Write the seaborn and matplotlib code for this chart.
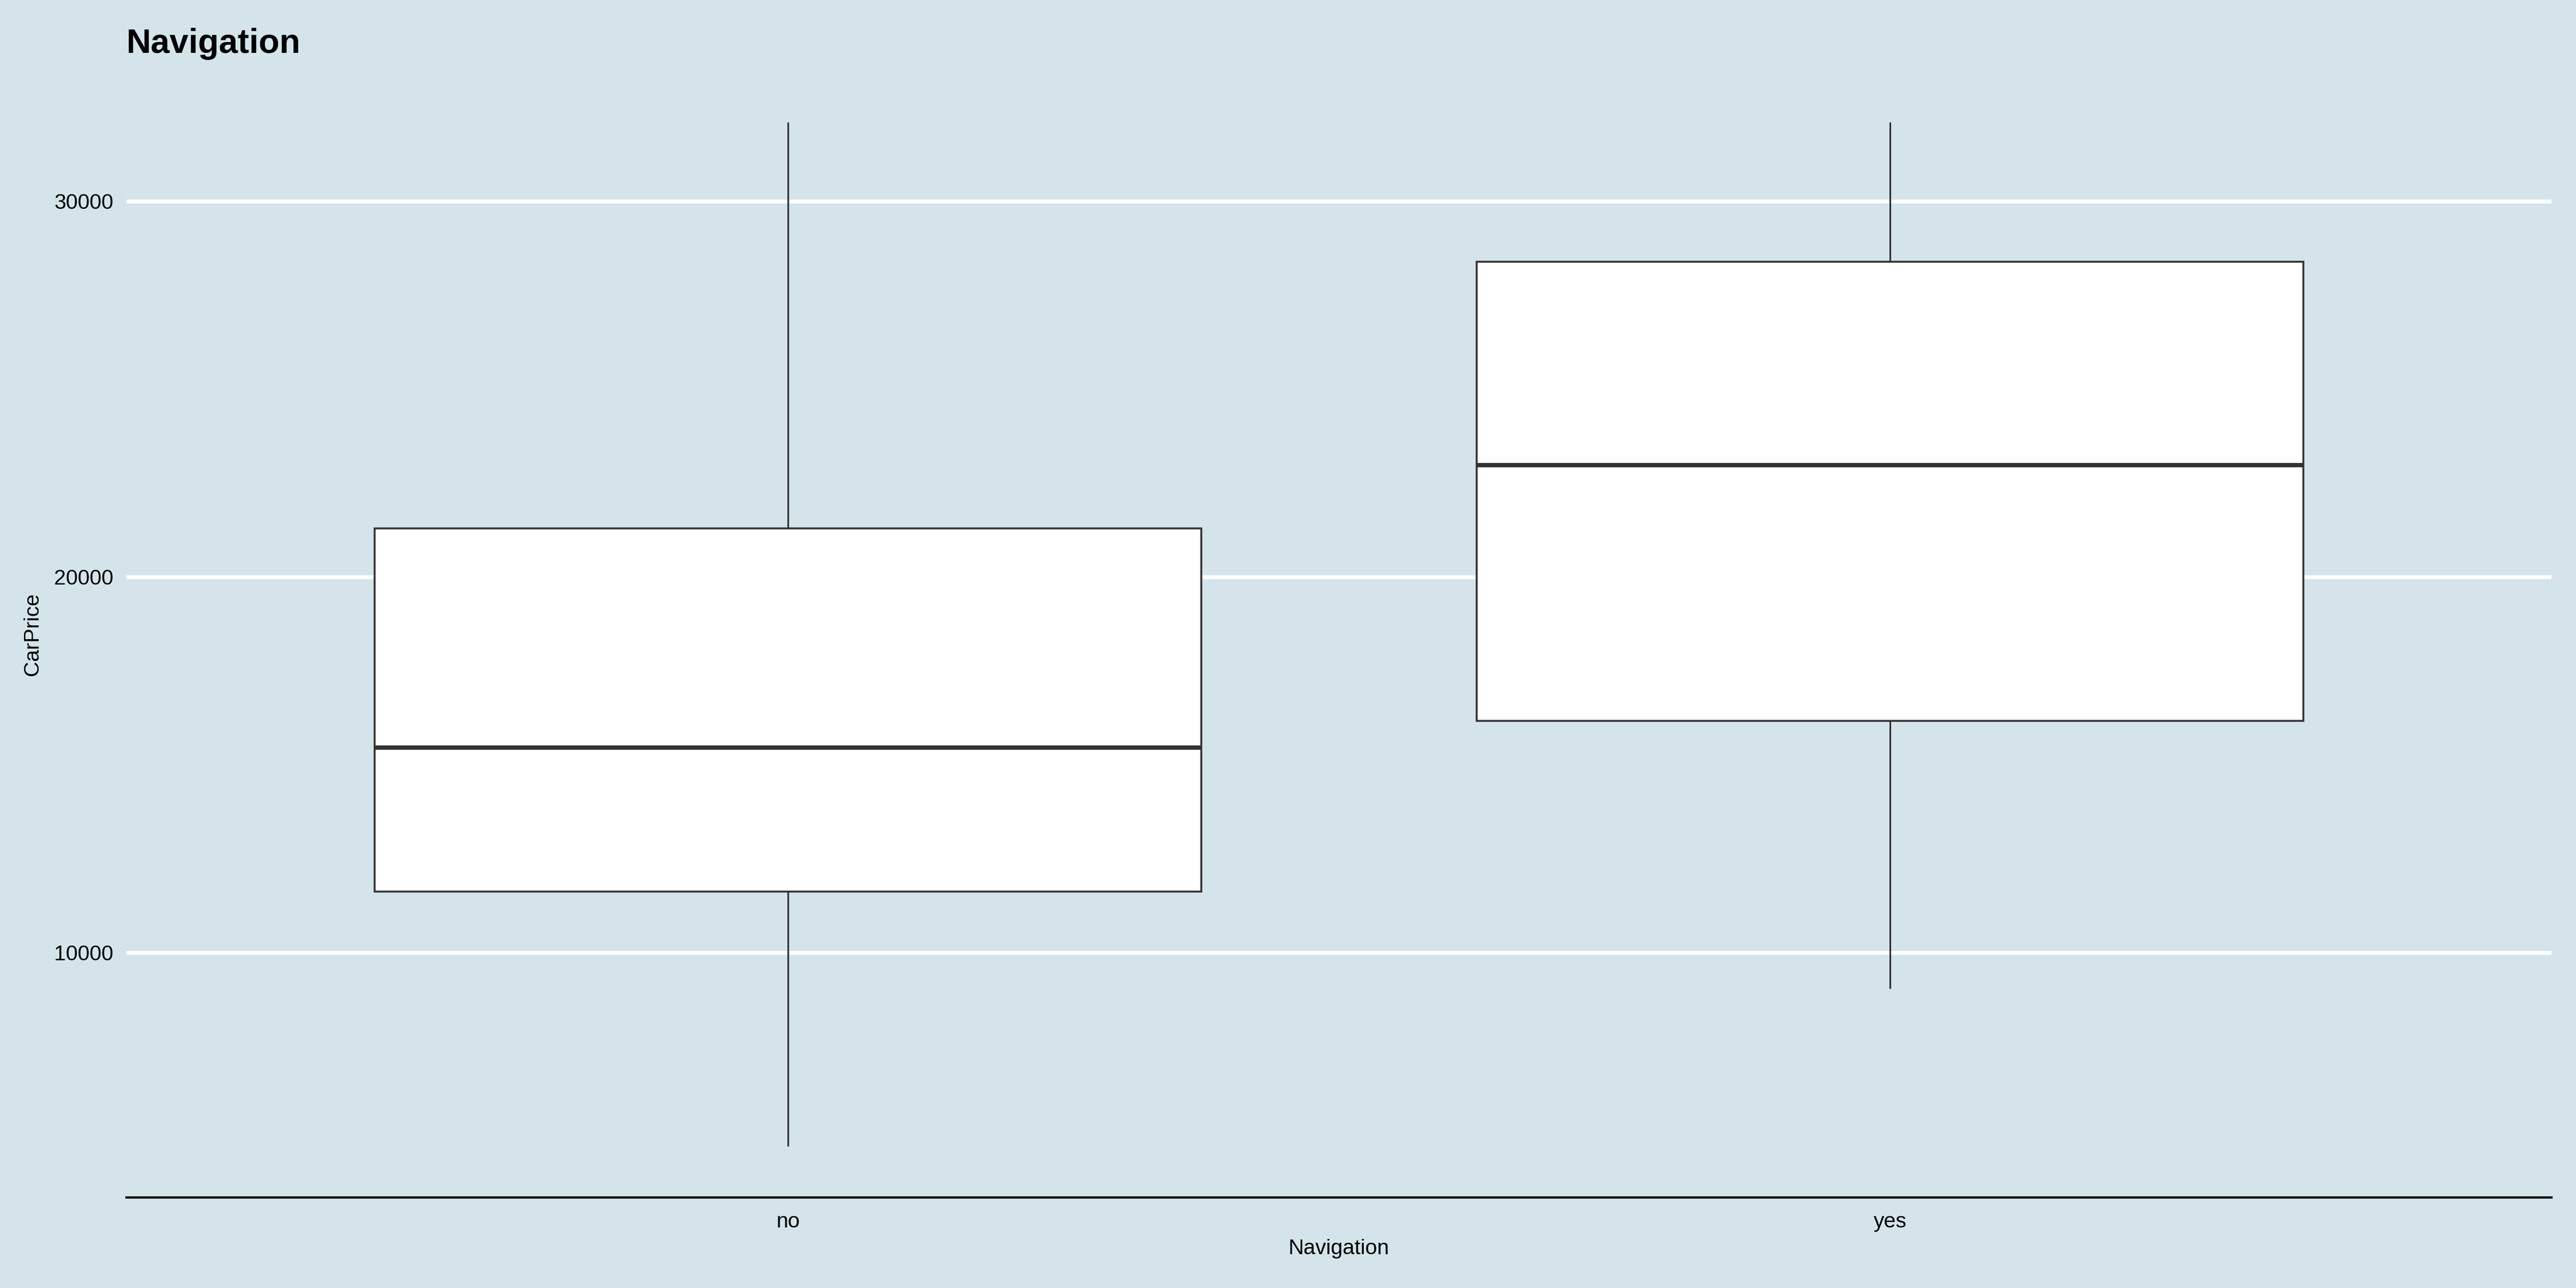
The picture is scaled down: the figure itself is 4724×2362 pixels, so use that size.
import numpy as np
import pandas as pd
import seaborn as sns
import matplotlib.pyplot as plt

# five-number summary of CarPrice per Navigation level
navigation = ['no', 'yes']
price_min = [4850, 9040]
price_q1 = [11620, 16160]
price_median = [15460, 22970]
price_q3 = [21290, 28380]
price_max = [32100, 32100]
y_ticks = [10000, 20000, 30000]

bg_color = '#d5e4eb'
edge_color = '#333333'

# five values per group -> quartiles fall exactly on q1 / median / q3
rows = []
for i, nav in enumerate(navigation):
    for v in [price_min[i], price_q1[i], price_median[i], price_q3[i], price_max[i]]:
        rows.append({'Navigation': nav, 'CarPrice': v})
df_cars = pd.DataFrame(rows)

sns.set_style('white', {'axes.facecolor': bg_color,
                        'figure.facecolor': bg_color,
                        'axes.spines.left': False,
                        'axes.spines.right': False,
                        'axes.spines.top': False,
                        'text.color': 'black',
                        'axes.labelcolor': 'black'})
plt.rcParams['font.family'] = ['Liberation Sans', 'DejaVu Sans']

fig = plt.figure(figsize=(4724 / 300, 2362 / 300), dpi=300)
ax = fig.add_axes([0.0491, 0.0703, 0.9414, 0.8747])

ax.grid(axis='y', color='white', linewidth=1.7, zorder=0)
ax.set_axisbelow(True)

sns.boxplot(data=df_cars, x='Navigation', y='CarPrice', order=navigation,
            whis=(0, 100), width=0.75, color='white', linecolor=edge_color,
            showcaps=False, showfliers=False, ax=ax,
            boxprops={'linewidth': 0.85, 'edgecolor': edge_color, 'facecolor': 'white'},
            whiskerprops={'linewidth': 0.75, 'color': edge_color},
            medianprops={'linewidth': 1.9, 'color': edge_color})

lo, hi = min(price_min), max(price_max)
pad = 0.05 * (hi - lo)
ax.set_ylim(lo - pad, hi + pad)
ax.set_xlim(-0.6, len(navigation) - 0.4)
ax.set_yticks(y_ticks)
ax.set_yticklabels([str(t) for t in y_ticks])

ax.spines['bottom'].set_color('black')
ax.spines['bottom'].set_linewidth(1.0)
ax.tick_params(axis='x', direction='in', length=3.4, width=0.7, color='black',
               pad=6.4, labelsize=9.4, labelcolor='black')
ax.tick_params(axis='y', length=0, pad=5.8, labelsize=9.4, labelcolor='black')

ax.set_xlabel('Navigation', fontsize=9.4, labelpad=3.3, color='black')
ax.set_ylabel('CarPrice', fontsize=9.4, labelpad=5, color='black')

fig.text(0.0491, 0.959, 'Navigation', fontsize=15, fontweight='bold',
         ha='left', va='baseline', color='black')

fig.savefig('out.png', dpi=300, facecolor=bg_color)
